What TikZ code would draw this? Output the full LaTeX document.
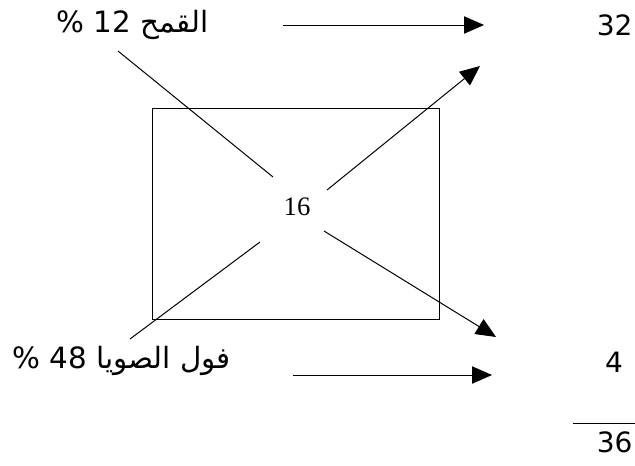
\documentclass[tikz,border=0pt]{standalone}
\usepackage{fontspec}
\setmainfont{Liberation Serif}
\newfontfamily\arabicfont[Script=Arabic]{DejaVu Sans}
\newfontfamily\numfont{DejaVu Sans}
\TeXXeTstate=1
\usetikzlibrary{arrows.meta}
\begin{document}
\begin{tikzpicture}[x=0.75pt,y=-0.75pt, line width=0.75pt,
  arr/.style={-{Triangle[length=15pt,width=13pt]}},
  lbl/.style={font=\arabicfont\fontsize{22}{26}\selectfont, inner sep=0pt},
  num/.style={font=\numfont\fontsize{21}{25}\selectfont, inner sep=0pt},
  mid/.style={font=\fontsize{20}{24}\selectfont, inner sep=0pt}]
\useasboundingbox (0,0) rectangle (635,465);
\node[draw, minimum width=215.25pt, minimum height=158.25pt, anchor=north west, inner sep=0pt] (box) at (152,108) {};
\node[mid] (c) at (297,207) {16};
\node[lbl] (wheat) at (128,25) {\beginR القمح 12 \% \endR};
\node[lbl] (soy) at (117,361) {\beginR فول الصويا 48 \% \endR};
\node[num, anchor=east] (n32) at (633,25) {32};
\node[num] (n4) at (614,362) {4};
\node[num, anchor=east] (n36) at (633,442) {36};
\coordinate (tlA) at (118,51); \coordinate (tlB) at (273,177);
\coordinate (trA) at (327,190); \coordinate (trB) at (480,66);
\coordinate (blA) at (260,242); \coordinate (blB) at (130,339);
\coordinate (brA) at (324,231); \coordinate (brB) at (496,337);
\coordinate (ta) at (283,25); \coordinate (tb) at (484,25);
\coordinate (ba) at (293,375); \coordinate (bb) at (492,375);
\coordinate (ua) at (573,423); \coordinate (ub) at (635,423);
\draw (tlA) -- (tlB);
\draw[arr] (trA) -- (trB);
\draw (blA) -- (blB);
\draw[arr] (brA) -- (brB);
\draw[arr] (ta) -- (tb);
\draw[arr] (ba) -- (bb);
\draw (ua) -- (ub);
\end{tikzpicture}
\end{document}
